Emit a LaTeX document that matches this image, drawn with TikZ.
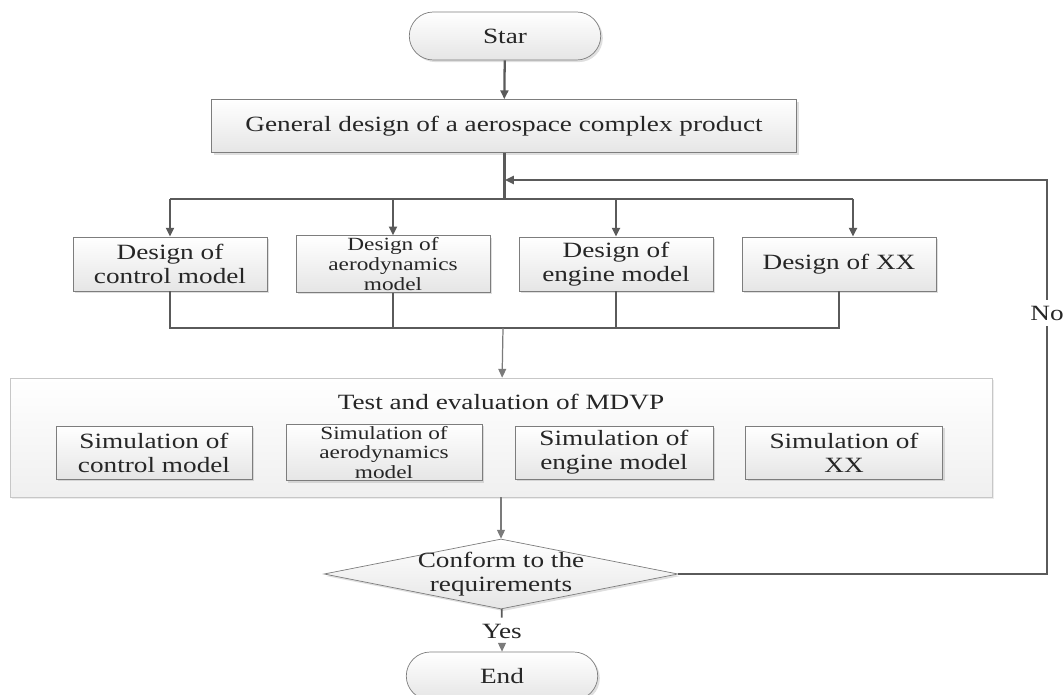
\documentclass[tikz,border=0pt]{standalone}
\usepackage{fontspec}
\setmainfont{Liberation Serif}[FakeStretch=1.25]
\usetikzlibrary{shapes.geometric,shapes.misc,arrows.meta,shadows}
\definecolor{linegray}{RGB}{90,90,90}
\definecolor{boxline}{RGB}{125,125,125}
\begin{document}
\begin{tikzpicture}[x=0.02cm,y=-0.02cm,
  every node/.style={font=\fontsize{12.4}{13.6}\selectfont,text=black!85},
  box/.style={draw=boxline,top color=white,bottom color=black!10,drop shadow={shadow xshift=1.2pt,shadow yshift=-1.2pt,opacity=0.25},align=center,inner sep=1pt,minimum width=3.88cm,minimum height=1.08cm},
  smallbox/.style={box,font=\fontsize{10.6}{11.3}\selectfont},
  term/.style={box,rounded rectangle,minimum width=3.9cm,minimum height=0.96cm},
  outer/.style={draw=black!22,top color=white,bottom color=black!6,drop shadow={shadow xshift=1pt,shadow yshift=-1pt,opacity=0.15},minimum width=19.64cm,minimum height=2.38cm},
  decision/.style={diamond,draw=boxline,top color=white,bottom color=black!10,drop shadow={shadow xshift=1.2pt,shadow yshift=-1.2pt,opacity=0.25},inner sep=0pt,minimum width=7.08cm,minimum height=1.4cm},
  line/.style={draw=linegray,line width=1.3pt},
  flow/.style={line,-{Triangle[length=5pt,width=4.5pt]}},
  thinflow/.style={draw=linegray!80,line width=0.7pt,-{Triangle[length=5pt,width=4.5pt]}}]
\useasboundingbox (0,0) rectangle (1064,695);
% start and general design
\node[term] (star) at (505,36) {Star};
\node[box,minimum width=11.7cm,minimum height=1.06cm] (gen) at (504,126) {General design of a aerospace complex product};
% design of the sub models
\node[box] (d1) at (170,264) {Design of\\control model};
\node[smallbox] (d2) at (393,264) {Design of\\aerodynamics\\model};
\node[box] (d3) at (616,264) {Design of\\engine model};
\node[box] (d4) at (839,264) {Design of XX};
% test and evaluation
\node[outer] (mdvp) at (501,437.5) {};
\node (mdvptxt) at (501,402) {Test and evaluation of MDVP};
\node[box,minimum width=3.92cm,minimum height=1.06cm] (s1) at (154,452.5) {Simulation of\\control model};
\node[smallbox,minimum width=3.92cm,minimum height=1.06cm] (s2) at (384,452.5) {Simulation of\\aerodynamics\\model};
\node[box,minimum width=3.96cm,minimum height=1.06cm] (s3) at (614,452.5) {Simulation of\\engine model};
\node[box,minimum width=3.94cm,minimum height=1.06cm] (s4) at (844,452.5) {Simulation of\\XX};
% decision
\node[decision,label={[align=center,font=\fontsize{12.4}{13.6}\selectfont]center:Conform to the\\requirements}] (chk) at (501,574) {};
\node (yes) at (502,631) {Yes};
\node[term] (end) at (502,676) {End};
\node (no) at (1047,313) {No};
% connectors
\coordinate (split) at (504,199);
\coordinate (join) at (503,328);
\coordinate (fb) at (505,180);
\coordinate (d4in) at ([xshift=0.28cm]d4.north);
\draw[flow] (star) -- (gen);
\draw[line,line width=1.7pt] (gen) -- (split);
\draw[line,line width=1.7pt] (d1.north |- split) -- (d4in |- split);
\foreach \n in {d1,d2,d3} \draw[flow] (\n.north |- split) -- (\n);
\draw[flow] (d4in |- split) -- (d4in);
\draw[line] (d1.south) |- (join) -| (d4.south);
\foreach \n in {d2,d3} \draw[line] (\n.south) -- (\n.south |- join);
\draw[thinflow] (join) -- (mdvp);
\draw[thinflow] (mdvp) -- (chk);
\draw[line,line width=1pt] (chk) -- (yes);
\draw[thinflow] (yes) -- (end);
\draw[line,line width=1.6pt] (chk.east) -| (no);
\draw[flow] (no) |- (fb);
\end{tikzpicture}
\end{document}
